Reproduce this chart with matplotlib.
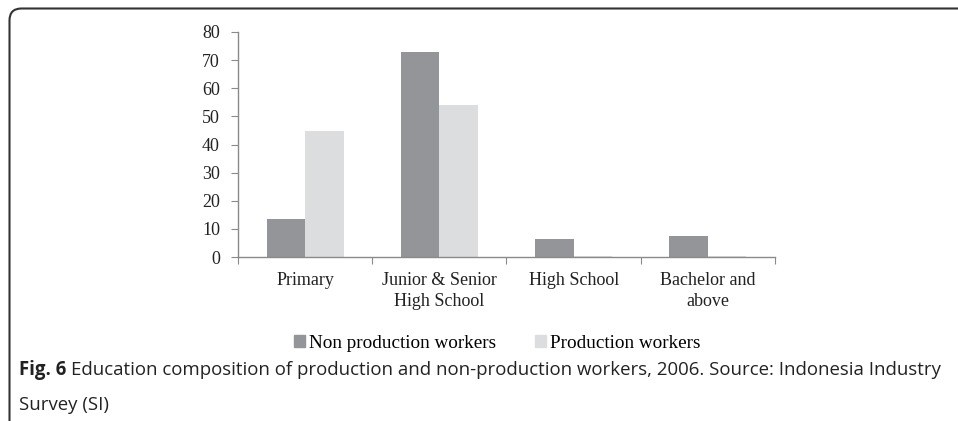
import numpy as np
import matplotlib.pyplot as plt
from matplotlib.patches import PathPatch, Patch
from matplotlib.path import Path

categories = ["Primary", "Junior & Senior\nHigh School", "High School", "Bachelor and\nabove"]
non_production = [13.4, 72.8, 6.5, 7.3]
production = [44.8, 54.0, 0.5, 0.5]
series_names = ["Non production workers", "Production workers"]

dark = "#939598"
light = "#dcdddf"
axis_grey = "#8a8a8a"
serif = ["Liberation Serif", "DejaVu Serif"]
fs = 13

fig = plt.figure(figsize=(9.58, 4.21), dpi=100)
ax = fig.add_axes([0.2484, 0.3895, 0.5606, 0.5345])

x = np.arange(len(categories))
w = 0.287
ax.bar(x - w / 2, non_production, w, color=dark, label=series_names[0])
ax.bar(x + w / 2, production, w, color=light, label=series_names[1])

ax.set_xlim(-0.5, len(categories) - 0.5)
ax.set_ylim(0, 80)
ax.set_yticks(range(0, 81, 10))
ax.set_xticks(np.arange(-0.5, len(categories), 1.0))
ax.set_xticklabels([])
ax.set_xticks(x, minor=True)
ax.set_xticklabels(categories, minor=True, family=serif, fontsize=fs,
                   color="#222222", linespacing=1.25)
ax.tick_params(axis="x", which="minor", length=0, pad=11)
ax.tick_params(axis="x", which="major", length=5, color=axis_grey, direction="out")
ax.tick_params(axis="y", length=5, color=axis_grey, direction="out", pad=8,
               labelsize=fs, labelcolor="#222222")
for lab in ax.get_yticklabels():
    lab.set_family(serif)
for s in ["top", "right"]:
    ax.spines[s].set_visible(False)
for s in ["left", "bottom"]:
    ax.spines[s].set_color(axis_grey)
    ax.spines[s].set_linewidth(1.0)

handles = [Patch(color=dark), Patch(color=light)]
fig.legend(handles, series_names, loc="center", bbox_to_anchor=(0.519, 0.184),
           ncol=2, frameon=False, prop={"family": serif, "size": 13.8},
           handlelength=0.6, handleheight=0.6, handletextpad=0.2, columnspacing=2.0)

# caption
cap_font = ["Open Sans", "DejaVu Sans"]
cap_size = 13.4
t1 = fig.text(0.02, 0.121, "Fig. 6", family=cap_font, fontsize=cap_size, fontweight="bold",
              color="#222222", va="center")
fig.canvas.draw()
bb = t1.get_window_extent().transformed(fig.transFigure.inverted())
fig.text(bb.x1 + 0.005, 0.121,
         "Education composition of production and non-production workers, 2006. Source: Indonesia Industry",
         family=cap_font, fontsize=cap_size, color="#222222", va="center")
fig.text(0.02, 0.038, "Survey (SI)", family=cap_font, fontsize=cap_size, color="#222222", va="center")

# frame: top and left with rounded corner
W, H = 958.0, 421.0
x0, y0, r = 9.5 / W, 1 - 8.5 / H, 12.0
verts = [(x0, 0.0), (x0, y0 - r / H), (x0, y0), (x0 + r / W, y0), (1.0, y0)]
codes = [Path.MOVETO, Path.LINETO, Path.CURVE3, Path.CURVE3, Path.LINETO]
fig.patches.append(PathPatch(Path(verts, codes), transform=fig.transFigure,
                             fill=False, edgecolor="#333333", linewidth=1.5))

fig.savefig("out.png", dpi=100)
